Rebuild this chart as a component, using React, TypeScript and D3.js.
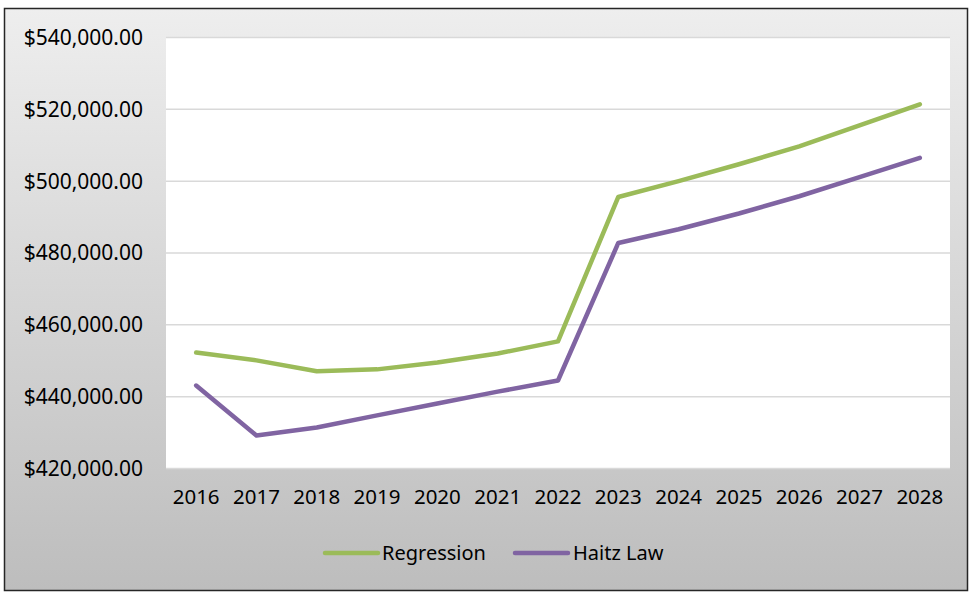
import React from "react";
import * as d3 from "d3";

const years = ["2016","2017","2018","2019","2020","2021","2022","2023","2024","2025","2026","2027","2028"];
const regression = [452300,450100,447100,447600,449500,452000,455400,495600,500000,504700,509700,515500,521400];
const haitz = [443100,429200,431400,434800,438100,441400,444500,482800,486600,491000,495800,501100,506500];
const yTicks = [420000,440000,460000,480000,500000,520000,540000];
const seriesNames = ["Regression","Haitz Law"];
const seriesColors = ["#9bbb59","#8064a2"];

const W = 970, H = 592;
const plot = { left: 166, right: 950, top: 37.5, bottom: 468.5 };
const FONT = "'Noto Sans', sans-serif";

export default function App() {
  const x = d3.scaleBand<string>().domain(years).range([plot.left, plot.right]);
  const y = d3.scaleLinear().domain([420000, 540000]).range([plot.bottom, plot.top]);
  const line = d3.line<number>()
    .x((_, i) => (x(years[i]) as number) + x.bandwidth() / 2)
    .y((d) => y(d));
  const fmt = (v: number) => "$" + d3.format(",.2f")(v);
  const series = [regression, haitz];
  const legendItems = [
    { x0: 325, tx: 382 },
    { x0: 515, tx: 573 },
  ];
  return (
    <svg width={W} height={H} style={{ position: "absolute", left: 0, top: 0 }}>
      <defs>
        <linearGradient id="bg" x1="0" y1="0" x2="0" y2="1">
          <stop offset="0" stopColor="#eeeeee" />
          <stop offset="1" stopColor="#bdbdbd" />
        </linearGradient>
      </defs>
      <rect x={4.5} y={8.5} width={963} height={582} fill="url(#bg)" stroke="#262626" strokeWidth={1.5} />
      <rect x={plot.left} y={plot.top} width={plot.right - plot.left} height={plot.bottom - plot.top} fill="#ffffff" />
      {yTicks.map((t) => (
        <g key={t}>
          <line x1={plot.left} x2={plot.right} y1={y(t)} y2={y(t)} stroke="#d9d9d9" strokeWidth={1.5} />
          <text x={143} y={y(t)} dy="0.35em" textAnchor="end" fontFamily={FONT} fontSize={21} fill="#000">
            {fmt(t)}
          </text>
        </g>
      ))}
      {years.map((yr) => (
        <text key={yr} x={(x(yr) as number) + x.bandwidth() / 2} y={497} dy="0.35em" textAnchor="middle" fontFamily={FONT} fontSize={20.5} fill="#000">
          {yr}
        </text>
      ))}
      {series.map((s, i) => (
        <path key={i} d={line(s) || ""} fill="none" stroke={seriesColors[i]} strokeWidth={4.5} strokeLinejoin="round" strokeLinecap="round" />
      ))}
      {seriesNames.map((n, i) => (
        <g key={n}>
          <line x1={legendItems[i].x0} x2={legendItems[i].x0 + 53} y1={553} y2={553} stroke={seriesColors[i]} strokeWidth={4.5} strokeLinecap="round" />
          <text x={legendItems[i].tx} y={553} dy="0.35em" fontFamily={FONT} fontSize={20} fill="#000">{n}</text>
        </g>
      ))}
    </svg>
  );
}
